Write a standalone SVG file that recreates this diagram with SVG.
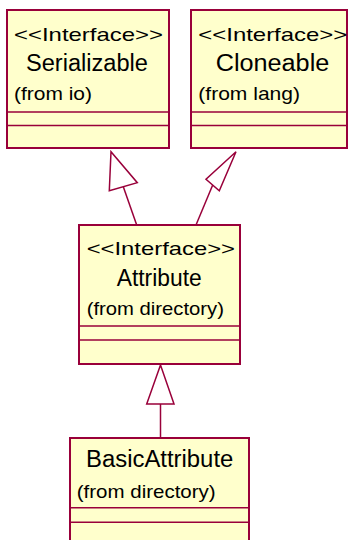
<svg xmlns="http://www.w3.org/2000/svg" width="348" height="540" viewBox="0 0 348 540">
<style>
.box{fill:#ffffcc;stroke:#99003a;stroke-width:2}
.div{stroke:#99003a;stroke-width:1.5;fill:none}
.edge{stroke:#99003a;stroke-width:1.5;fill:none}
.head{fill:#ffffff;stroke:#99003a;stroke-width:1.5;stroke-linejoin:miter}
text{font-family:"Liberation Sans",Arial,sans-serif;fill:#000000}
.st{font-size:19px}
.nm{font-size:23px}
.fr{font-size:19px}
</style>
<rect width="348" height="540" fill="#ffffff"/>
<g id="connectors">
<line class="edge" x1="123.3" y1="186.7" x2="136.7" y2="225"/>
<polygon class="head" points="111,151.7 109.3,190.7 137.3,182.7"/>
<line class="edge" x1="212.7" y1="185" x2="196" y2="225"/>
<polygon class="head" points="236,151.7 206,179.3 219.3,190.7"/>
<line class="edge" x1="160.5" y1="404" x2="160.5" y2="438"/>
<polygon class="head" points="160.5,365 146.7,404 174,404"/>
</g>
<g id="Serializable">
<rect class="box" x="7" y="10" width="162" height="138"/>
<line class="div" x1="7" y1="112" x2="169" y2="112"/>
<line class="div" x1="7" y1="125.5" x2="169" y2="125.5"/>
<text class="st" x="14" y="41" textLength="149" lengthAdjust="spacingAndGlyphs">&lt;&lt;Interface&gt;&gt;</text>
<text class="nm" x="26" y="71" textLength="122" lengthAdjust="spacingAndGlyphs">Serializable</text>
<text class="fr" x="14" y="100" textLength="78" lengthAdjust="spacingAndGlyphs">(from io)</text>
</g>
<g id="Cloneable">
<rect class="box" x="191" y="10" width="156" height="138"/>
<line class="div" x1="191" y1="112" x2="347" y2="112"/>
<line class="div" x1="191" y1="125.5" x2="347" y2="125.5"/>
<text class="st" x="198.3" y="41" textLength="149" lengthAdjust="spacingAndGlyphs">&lt;&lt;Interface&gt;&gt;</text>
<text class="nm" x="215.7" y="71" textLength="113.6" lengthAdjust="spacingAndGlyphs">Cloneable</text>
<text class="fr" x="198.3" y="100" textLength="101.7" lengthAdjust="spacingAndGlyphs">(from lang)</text>
</g>
<g id="Attribute">
<rect class="box" x="79" y="225" width="161" height="139"/>
<line class="div" x1="79" y1="326" x2="240" y2="326"/>
<line class="div" x1="79" y1="340" x2="240" y2="340"/>
<text class="st" x="86.7" y="255" textLength="148.3" lengthAdjust="spacingAndGlyphs">&lt;&lt;Interface&gt;&gt;</text>
<text class="nm" x="116.7" y="285.7" textLength="85" lengthAdjust="spacingAndGlyphs">Attribute</text>
<text class="fr" x="86.7" y="315" textLength="137.3" lengthAdjust="spacingAndGlyphs">(from directory)</text>
</g>
<g id="BasicAttribute">
<rect class="box" x="70" y="438" width="179" height="120"/>
<line class="div" x1="70" y1="507.7" x2="249" y2="507.7"/>
<line class="div" x1="70" y1="522.3" x2="249" y2="522.3"/>
<text class="nm" x="86" y="466.7" textLength="147.3" lengthAdjust="spacingAndGlyphs">BasicAttribute</text>
<text class="fr" x="76.7" y="498" textLength="139" lengthAdjust="spacingAndGlyphs">(from directory)</text>
</g>
</svg>
